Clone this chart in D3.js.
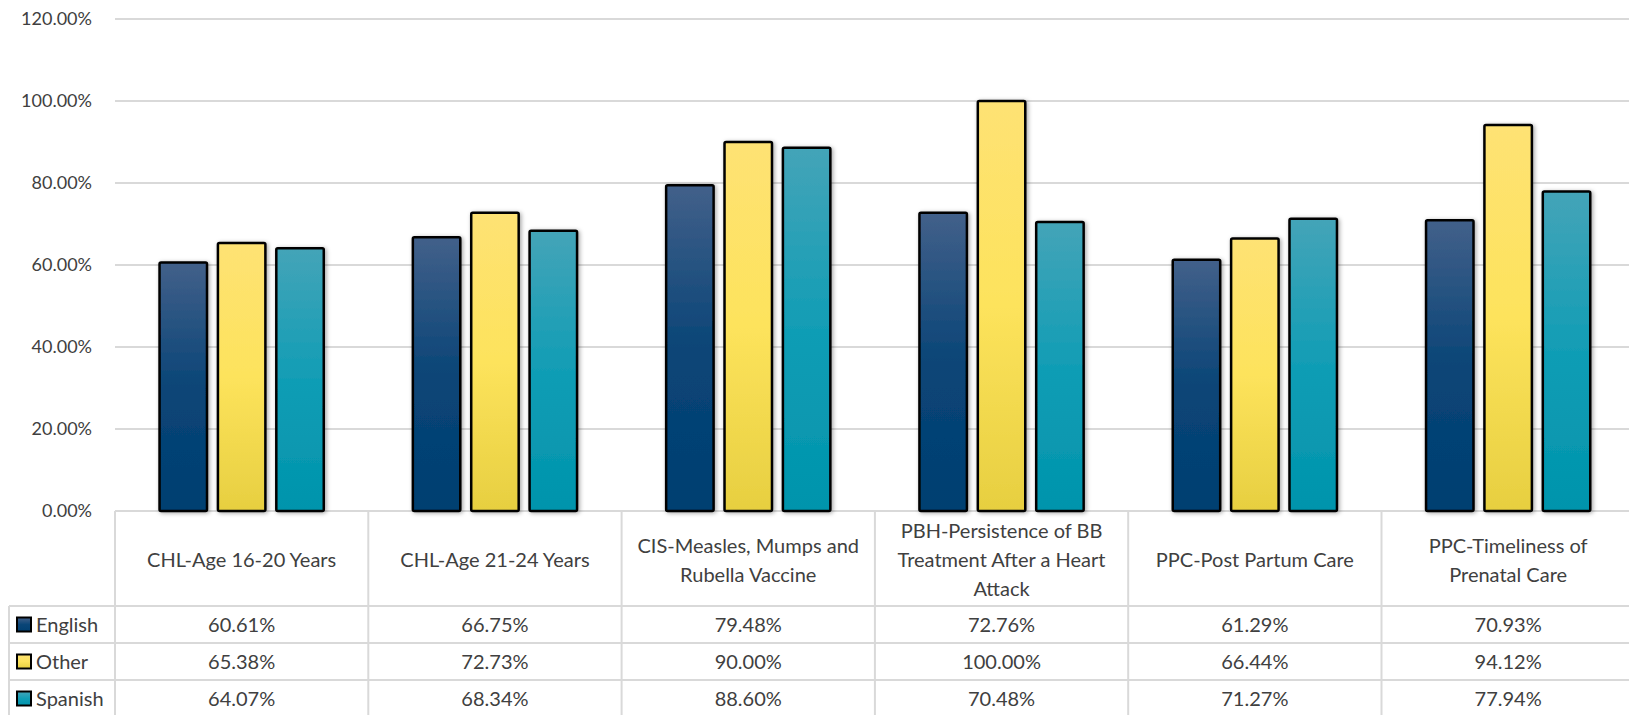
<!DOCTYPE html>
<html>
<head>
<meta charset="utf-8">
<script src="https://cdn.jsdelivr.net/npm/d3@7"></script>
<style>
  html, body { margin: 0; padding: 0; background: #ffffff; }
  svg { display: block; font-family: Lato, "Noto Sans", sans-serif; }
</style>
</head>
<body>
<svg id="chart" width="1629" height="715"></svg>
<script>
// Measure categories (table header / x axis)
const categories = [
  "CHL-Age 16-20 Years",
  "CHL-Age 21-24 Years",
  "CIS-Measles, Mumps and Rubella Vaccine",
  "PBH-Persistence of BB Treatment After a Heart Attack",
  "PPC-Post Partum Care",
  "PPC-Timeliness of Prenatal Care"
];

// Series names (legend / table rows)
const seriesNames = ["English", "Other", "Spanish"];

// Rates per series, in category order
const english = [0.6061, 0.6675, 0.7948, 0.7276, 0.6129, 0.7093];
const other   = [0.6538, 0.7273, 0.9000, 1.0000, 0.6644, 0.9412];
const spanish = [0.6407, 0.6834, 0.8860, 0.7048, 0.7127, 0.7794];

// Y axis ticks
const yTicks = [0, 0.2, 0.4, 0.6, 0.8, 1.0, 1.2];

const seriesValues = { English: english, Other: other, Spanish: spanish };

// Gradient stops (top -> bottom) per series
const gradients = {
  English: ["#42608a", "#0a4577", "#003f71"],
  Other:   ["#fee274", "#fde35c", "#e7cf40"],
  Spanish: ["#44a4b8", "#119db5", "#0094ac"]
};

const svg = d3.select("#chart");
const textColor = "#404040";
const gridColor = "#d9d9d9";

const plotLeft = 115;
const catWidth = 253.3;
const plotRight = plotLeft + catWidth * categories.length;
const baseY = 511;
const topY = 19;
const headerBottom = 606;
const rowH = 37;
const legendLeft = 9;

const x0 = d3.scaleBand().domain(categories).range([plotLeft, plotRight]).padding(0);
const x1 = d3.scaleBand().domain(seriesNames).range([0, x0.bandwidth()])
  .paddingInner(0.187).paddingOuter(0.763);
const y = d3.scaleLinear().domain([0, 1.2]).range([baseY, topY]);

// Defs: gradients and bar shadow
const defs = svg.append("defs");
seriesNames.forEach(s => {
  const g = defs.append("linearGradient").attr("id", "grad-" + s)
    .attr("x1", 0).attr("y1", 0).attr("x2", 0).attr("y2", 1);
  const st = gradients[s];
  g.append("stop").attr("offset", "0%").attr("stop-color", st[0]);
  g.append("stop").attr("offset", "50%").attr("stop-color", st[1]);
  g.append("stop").attr("offset", "100%").attr("stop-color", st[2]);
});
const f = defs.append("filter").attr("id", "shadow")
  .attr("x", "-30%").attr("y", "-10%").attr("width", "160%").attr("height", "120%");
f.append("feDropShadow").attr("dx", 1.5).attr("dy", 1).attr("stdDeviation", 2.2)
  .attr("flood-color", "#000").attr("flood-opacity", 0.35);

// Horizontal gridlines
svg.append("g").selectAll("line").data(yTicks.filter(t => t > 0)).join("line")
  .attr("x1", plotLeft).attr("x2", 1629)
  .attr("y1", d => y(d)).attr("y2", d => y(d))
  .attr("stroke", gridColor).attr("stroke-width", 2);

// Y axis labels
svg.append("g").selectAll("text").data(yTicks).join("text")
  .attr("x", 92).attr("y", d => y(d))
  .attr("dy", "0.35em")
  .attr("text-anchor", "end")
  .attr("font-size", 18)
  .attr("fill", textColor)
  .text(d => d3.format(".2%")(d));

// Data table grid
const tableG = svg.append("g").attr("stroke", gridColor).attr("stroke-width", 2);
const tableBottom = headerBottom + rowH * seriesNames.length;
// top edge of header (axis line)
tableG.append("line").attr("x1", plotLeft).attr("x2", 1640).attr("y1", baseY).attr("y2", baseY);
// row separators
d3.range(seriesNames.length + 1).forEach(i => {
  tableG.append("line").attr("x1", legendLeft).attr("x2", 1640)
    .attr("y1", headerBottom + i * rowH).attr("y2", headerBottom + i * rowH);
});
// column separators
d3.range(categories.length + 1).forEach(i => {
  const xx = plotLeft + i * catWidth;
  tableG.append("line").attr("x1", xx).attr("x2", xx).attr("y1", baseY).attr("y2", tableBottom);
});
tableG.append("line").attr("x1", legendLeft).attr("x2", legendLeft)
  .attr("y1", headerBottom).attr("y2", tableBottom);

// Bars
const groups = svg.append("g").selectAll("g").data(categories).join("g")
  .attr("transform", d => `translate(${x0(d)},0)`);
groups.selectAll("rect").data((c, i) => seriesNames.map(s => ({ s, v: seriesValues[s][i] })))
  .join("rect")
  .attr("x", d => x1(d.s))
  .attr("width", x1.bandwidth())
  .attr("y", d => y(d.v))
  .attr("height", d => baseY - y(d.v))
  .attr("rx", 1.5)
  .attr("fill", d => `url(#grad-${d.s})`)
  .attr("stroke", "#000")
  .attr("stroke-width", 2.5)
  .attr("stroke-linejoin", "round")
  .attr("filter", "url(#shadow)");

// Header labels, wrapped inside each column
const headerG = svg.append("g");
const maxLabelW = 232;
const lineH = 29;
categories.forEach(c => {
  const t = headerG.append("text")
    .attr("x", x0(c) + catWidth / 2)
    .attr("text-anchor", "middle")
    .attr("font-size", 20)
    .attr("fill", textColor);
  const words = c.split(" ");
  const lines = [];
  let cur = [];
  const probe = t.append("tspan");
  words.forEach(w => {
    const test = cur.concat([w]).join(" ");
    probe.text(test);
    if (probe.node().getComputedTextLength() > maxLabelW && cur.length) {
      lines.push(cur.join(" "));
      cur = [w];
    } else {
      cur.push(w);
    }
  });
  lines.push(cur.join(" "));
  probe.remove();
  const midY = (baseY + headerBottom) / 2 + 1.5;
  const startY = midY - (lines.length - 1) * lineH / 2;
  lines.forEach((ln, k) => {
    t.append("tspan").attr("x", x0(c) + catWidth / 2)
      .attr("y", startY + k * lineH).attr("dy", "0.35em").text(ln);
  });
});

// Legend rows and value cells
seriesNames.forEach((s, r) => {
  const cy = headerBottom + r * rowH + rowH / 2;
  svg.append("rect")
    .attr("x", 17).attr("y", cy - 7).attr("width", 14).attr("height", 14)
    .attr("fill", `url(#grad-${s})`)
    .attr("stroke", "#000").attr("stroke-width", 2);
  svg.append("text")
    .attr("x", 36).attr("y", cy).attr("dy", "0.35em")
    .attr("font-size", 20).attr("fill", textColor).text(s);
  categories.forEach((c, i) => {
    svg.append("text")
      .attr("x", x0(c) + catWidth / 2).attr("y", cy).attr("dy", "0.35em")
      .attr("text-anchor", "middle")
      .attr("font-size", 20).attr("fill", textColor)
      .text(d3.format(".2%")(seriesValues[s][i]));
  });
});
</script>
</body>
</html>
